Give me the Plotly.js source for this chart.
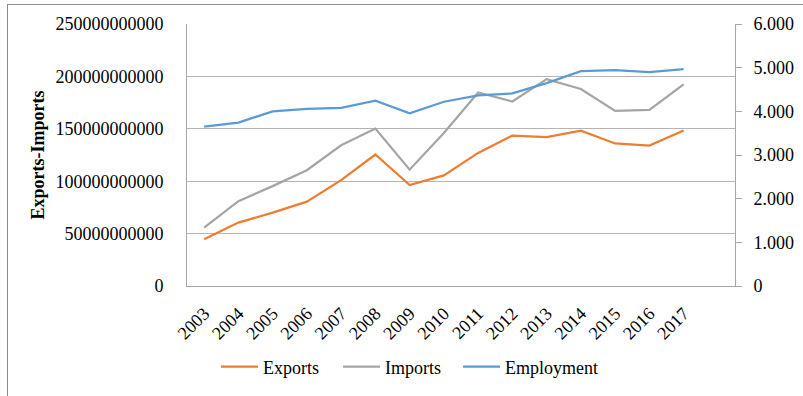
<!DOCTYPE html>
<html>
<head>
<meta charset="utf-8">
<script src="https://cdn.plot.ly/plotly-3.0.1.min.js"></script>
<style>
  html, body { margin: 0; padding: 0; background: #fff; overflow: hidden; }
  #chart { position: absolute; left: 0; top: 0; width: 803px; height: 396px; }
  #frame { position: absolute; left: 7px; top: 4px; width: 900px; height: 500px;
           border-left: 1px solid #8c8c8c; border-top: 1px solid #8c8c8c; pointer-events: none; }
</style>
</head>
<body>
<div id="chart"></div>
<div id="frame"></div>
<script>
const years = ["2003","2004","2005","2006","2007","2008","2009","2010","2011","2012","2013","2014","2015","2016","2017"];
const exportsVals = [44.5e9, 60.5e9, 70e9, 80.5e9, 101e9, 125.5e9, 96.3e9, 105.5e9, 127e9, 143.5e9, 142e9, 148.3e9, 136e9, 134e9, 148.3e9];
const importsVals = [55.8e9, 81e9, 95.3e9, 110.5e9, 134.3e9, 150.2e9, 111e9, 146e9, 184.7e9, 176e9, 197.4e9, 188e9, 167e9, 168e9, 192.3e9];
const employmentVals = [3.65, 3.742, 4.0, 4.054, 4.077, 4.244, 3.954, 4.22, 4.366, 4.411, 4.647, 4.921, 4.943, 4.898, 4.966];
const rightTickVals = [0, 1, 2, 3, 4, 5, 6];
const rightTickText = ["0", "1.000", "2.000", "3.000", "4.000", "5.000", "6.000"];
const leftTitle = "Exports-Imports";

const FONT = "'Liberation Serif', 'Times New Roman', serif";
const GRID = "#b4b4b4";
const AXIS = "#a6a6a6";

const traces = [
  { x: years, y: exportsVals, name: "Exports", type: "scatter", mode: "lines",
    line: { color: "#ED7D31", width: 2.25 }, yaxis: "y", legend: "legend" },
  { x: years, y: importsVals, name: "Imports", type: "scatter", mode: "lines",
    line: { color: "#A5A5A5", width: 2.25 }, yaxis: "y", legend: "legend2" },
  { x: years, y: employmentVals, name: "Employment", type: "scatter", mode: "lines",
    line: { color: "#5B9BD5", width: 2.25 }, yaxis: "y2", legend: "legend3" }
];

function legendAt(xp) {
  return {
    orientation: "h", x: xp, xanchor: "left", y: -0.304, yanchor: "middle",
    font: { family: FONT, size: 18, color: "#000" }, bgcolor: "rgba(0,0,0,0)",
    itemwidth: 37
  };
}

const layout = {
  width: 803, height: 396,
  margin: { l: 187, r: 68, t: 24, b: 109 },
  paper_bgcolor: "rgba(0,0,0,0)", plot_bgcolor: "#fff",
  font: { family: FONT, size: 18, color: "#000" },
  showlegend: true,
  legend: legendAt(0.0529),
  legend2: legendAt(0.2755),
  legend3: legendAt(0.4945),
  hovermode: false,
  xaxis: {
    type: "category", range: [-0.5, 15.5], tickangle: -45,
    showgrid: false, zeroline: false, showline: true, linecolor: AXIS, linewidth: 1,
    ticks: "outside", ticklen: 9, tickcolor: "rgba(0,0,0,0)",
    tickfont: { family: FONT, size: 18, color: "#000" }
  },
  yaxis: {
    range: [0, 250e9], dtick: 50e9, tickformat: "d", exponentformat: "none",
    showgrid: true, gridcolor: GRID, gridwidth: 1, zeroline: false,
    showline: true, linecolor: AXIS, linewidth: 1,
    ticks: "outside", ticklen: 19, tickcolor: "rgba(0,0,0,0)",
    tickfont: { family: FONT, size: 18, color: "#000" },
    title: { text: "<b>" + leftTitle + "</b>", font: { family: FONT, size: 18, color: "#000" }, standoff: 6 }
  },
  yaxis2: {
    overlaying: "y", side: "right", range: [0, 6],
    tickmode: "array", tickvals: rightTickVals, ticktext: rightTickText,
    showgrid: false, zeroline: false, showline: true, linecolor: AXIS, linewidth: 1,
    ticks: "outside", ticklen: 6, tickcolor: AXIS, tickwidth: 1,
    ticklabelstandoff: 8,
    tickfont: { family: FONT, size: 18, color: "#000" }
  }
};

Plotly.newPlot("chart", traces, layout, { displayModeBar: false, staticPlot: true });
</script>
</body>
</html>
